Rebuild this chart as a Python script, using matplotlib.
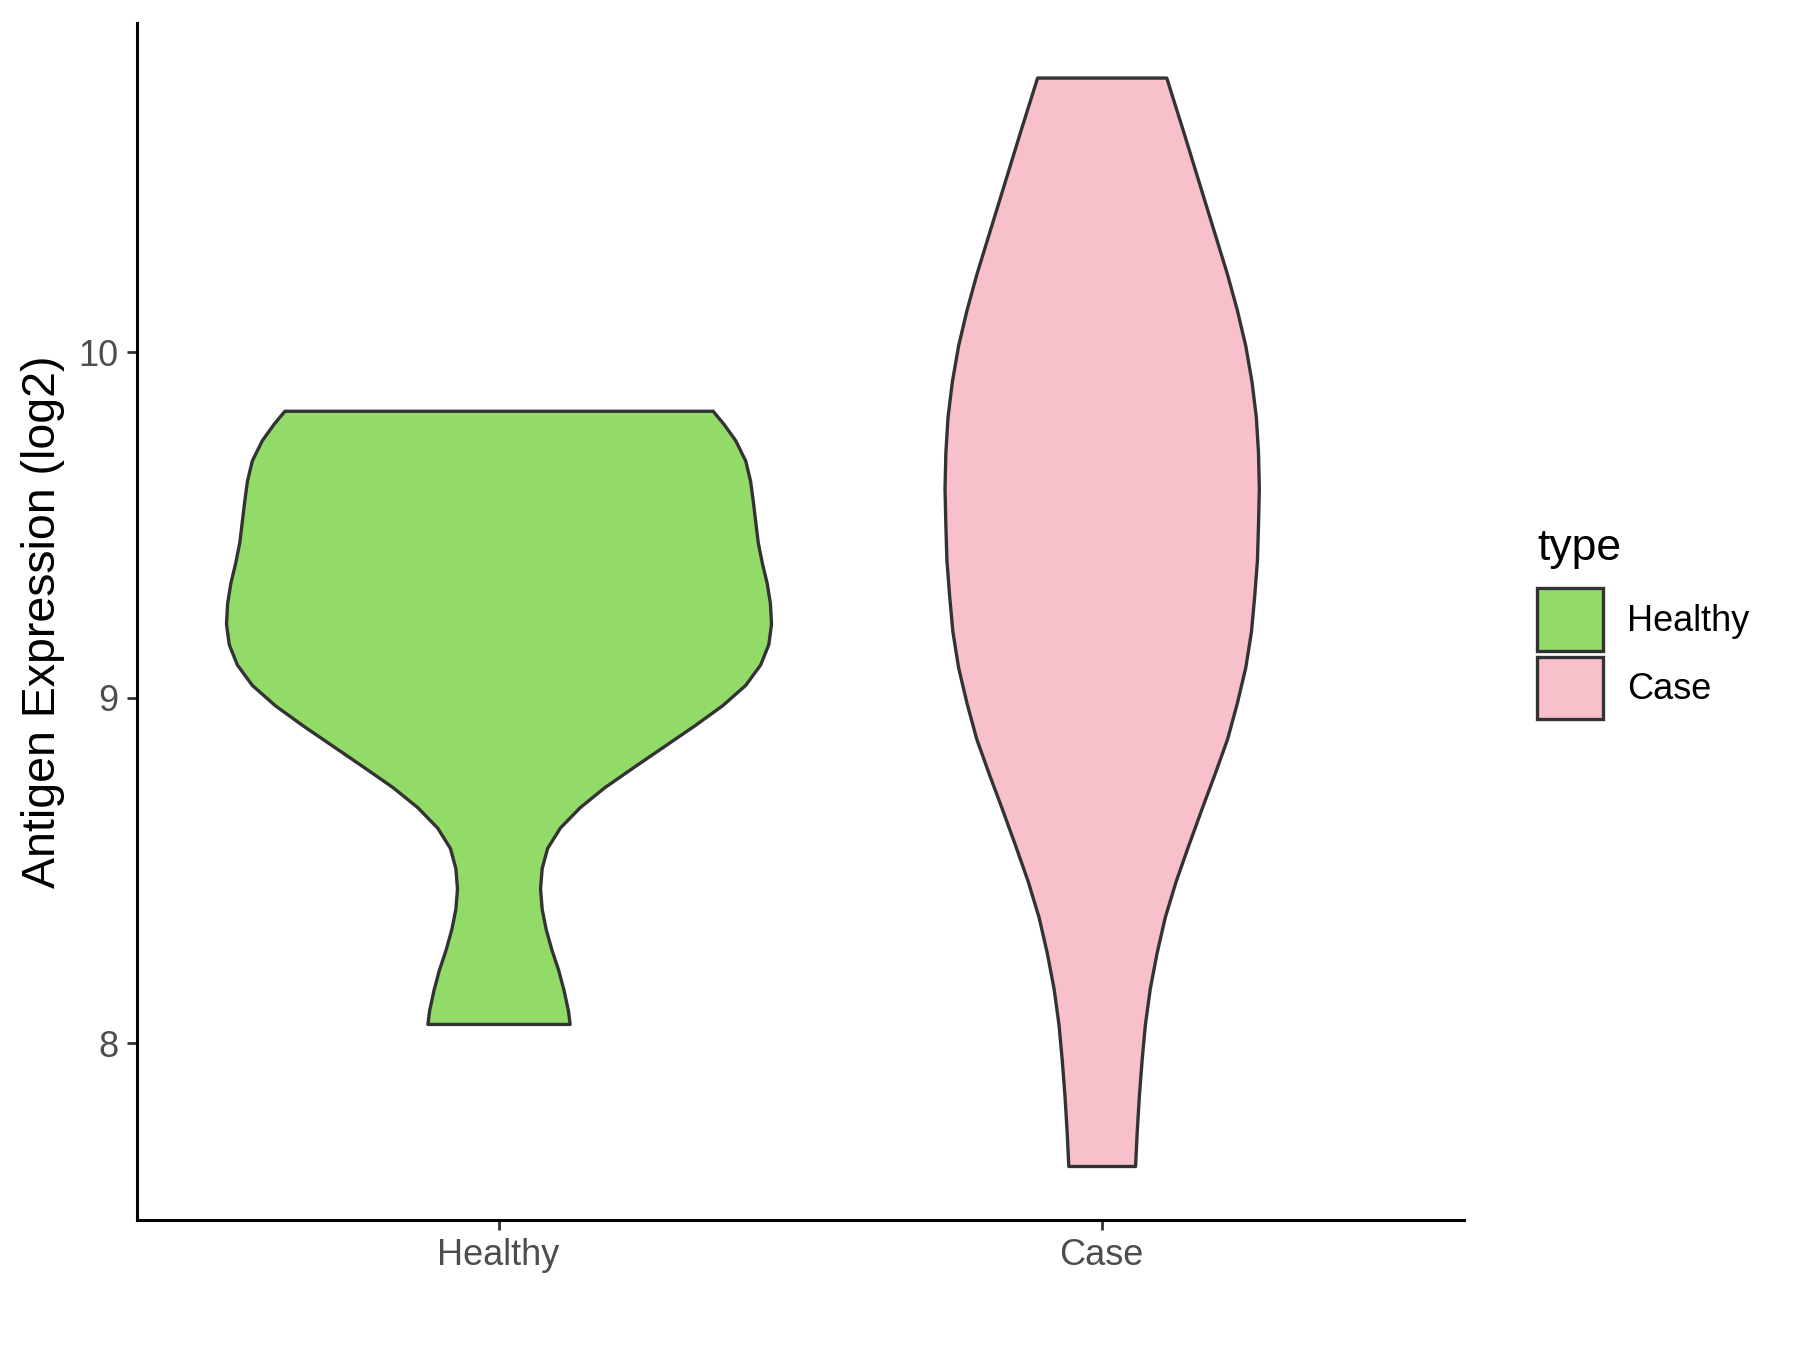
import numpy as np
from matplotlib import pyplot as plt
from matplotlib.patches import Patch

# violin outlines: value levels and relative density (half width)
groups = ['Healthy', 'Case']
colors = ['#93DB69', '#F7C0CB']

healthy_y = [9.830, 9.792, 9.745, 9.686, 9.627, 9.568, 9.509, 9.450, 9.391, 9.332,
             9.273, 9.214, 9.155, 9.096, 9.037, 8.978, 8.919, 8.860, 8.801, 8.741,
             8.683, 8.624, 8.565, 8.507, 8.448, 8.389, 8.330, 8.271, 8.212, 8.153,
             8.094, 8.056]
healthy_d = [0.789, 0.829, 0.872, 0.909, 0.927, 0.937, 0.946, 0.955, 0.970, 0.988,
             1.000, 1.004, 0.994, 0.964, 0.909, 0.824, 0.720, 0.610, 0.500, 0.390,
             0.299, 0.226, 0.179, 0.159, 0.153, 0.159, 0.174, 0.195, 0.220, 0.240,
             0.256, 0.262]

case_y = [10.794, 10.639, 10.432, 10.225, 10.122, 10.019, 9.915, 9.812, 9.709, 9.605,
          9.502, 9.398, 9.295, 9.192, 9.088, 8.985, 8.881, 8.778, 8.675, 8.571,
          8.468, 8.364, 8.261, 8.158, 8.054, 7.951, 7.848, 7.744, 7.645]
case_d = [0.238, 0.300, 0.381, 0.462, 0.498, 0.529, 0.552, 0.568, 0.576, 0.579,
          0.576, 0.572, 0.562, 0.550, 0.529, 0.498, 0.462, 0.415, 0.366, 0.318,
          0.272, 0.232, 0.202, 0.177, 0.159, 0.147, 0.137, 0.129, 0.123]

yticks = [8, 9, 10]

plt.rcParams['font.family'] = ['Liberation Sans', 'DejaVu Sans']

fig = plt.figure(figsize=(18, 13.5), dpi=100)
ax = fig.add_axes([0.0759, 0.0961, 0.8131 - 0.0759, 0.983 - 0.0961])

profiles = [(healthy_y, healthy_d), (case_y, case_d)]
for i, (yv, dv) in enumerate(profiles):
    yv = np.array(yv)
    half = 0.45 * np.array(dv)
    pos = i + 1
    ax.fill_betweenx(yv, pos - half, pos + half, facecolor=colors[i],
                     edgecolor='#333333', linewidth=2.4, joinstyle='round')

ax.set_xlim(0.4, 2.6)
ax.set_ylim(7.488, 10.952)
ax.set_xticks([1, 2])
ax.set_xticklabels(groups)
ax.set_yticks(yticks)
ax.set_yticklabels([str(t) for t in yticks])
ax.set_ylabel('Antigen Expression (log2)', fontsize=33.5, labelpad=10)

for side in ['top', 'right']:
    ax.spines[side].set_visible(False)
for side in ['left', 'bottom']:
    ax.spines[side].set_linewidth(2.2)
    ax.spines[side].set_color('black')
ax.tick_params(axis='both', length=7, width=2.0, color='#333333',
               labelsize=26, labelcolor='#4D4D4D', pad=6)

handles = [Patch(facecolor=c, edgecolor='#333333', linewidth=2.4, label=g)
           for g, c in zip(groups, colors)]
leg = fig.legend(handles=handles, title='type', loc='center left',
                 bbox_to_anchor=(0.846, 0.538), frameon=False, fontsize=26,
                 title_fontsize=32, handlelength=1.83, handleheight=2.3,
                 labelspacing=0.15, handletextpad=0.65, borderaxespad=0)
leg._legend_box.align = 'left'
leg._legend_box.sep = 14

fig.savefig('out.png', dpi=100)
